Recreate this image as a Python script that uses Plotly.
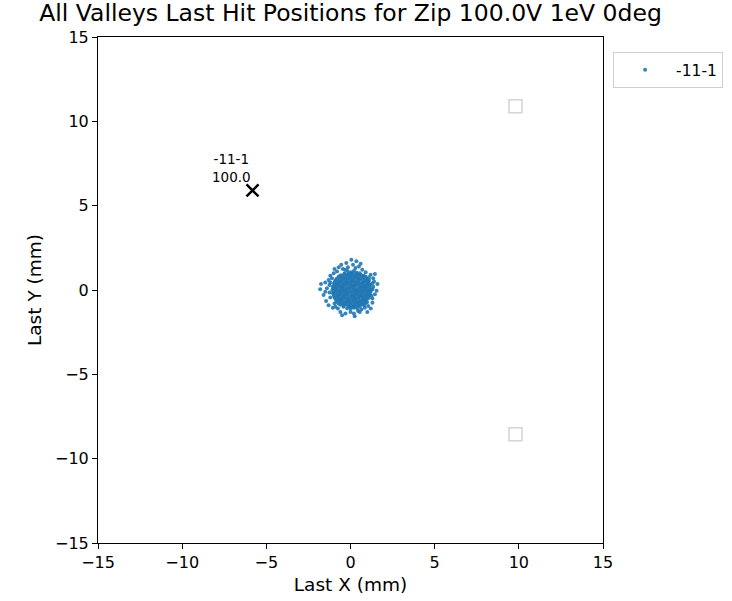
import plotly.graph_objects as go

# Last hit positions (mm) for valley -11-1
last_x = [
    -0.18, 0.02, 0.21, 0.38,
    -0.58, -0.38, -0.17, 0.04, 0.25, 0.44, 0.63, 0.79,
    -0.8, -0.6, -0.41, -0.2, 0.0, 0.19, 0.4, 0.58, 0.78, 0.97,
    -0.92, -0.71, -0.52, -0.31, -0.12, 0.09, 0.3, 0.49, 0.7, 0.88, 1.08,
    -0.98, -0.79, -0.58, -0.4, -0.19, 0.01, 0.2, 0.41, 0.6, 0.81, 1.0, 1.17,
    -1.02, -0.83, -0.62, -0.43, -0.22, -0.03, 0.18, 0.37, 0.57, 0.78, 0.97, 1.16,
    -1.0, -0.81, -0.6, -0.39, -0.2, 0.0, 0.21, 0.4, 0.61, 0.8, 1.01, 1.19,
    -0.99, -0.78, -0.59, -0.38, -0.18, 0.03, 0.22, 0.43, 0.62, 0.82, 1.02, 1.15,
    -0.93, -0.72, -0.51, -0.32, -0.11, 0.1, 0.29, 0.5, 0.71, 0.9, 1.08,
    -0.82, -0.61, -0.4, -0.21, 0.01, 0.2, 0.39, 0.6, 0.79, 0.98,
    -0.6, -0.39, -0.18, 0.03, 0.24, 0.45, 0.64, 0.8,
    -0.2, 0.0, 0.2, 0.4,
    -0.35, -0.08, 0.14, 0.33, 0.55,
    -0.7, -0.5, -0.28, -0.07, 0.12, 0.33, 0.52, 0.71, 0.9,
    -0.88, -0.65, -0.45, -0.24, -0.03, 0.16, 0.37, 0.56, 0.77, 0.95, 1.1,
    -0.97, -0.75, -0.55, -0.35, -0.14, 0.06, 0.27, 0.46, 0.66, 0.86, 1.05,
    -1.05, -0.87, -0.68, -0.48, -0.27, -0.08, 0.12, 0.32, 0.52, 0.72, 0.91, 1.1,
    -1.08, -0.9, -0.7, -0.5, -0.3, -0.1, 0.11, 0.31, 0.5, 0.7, 0.9, 1.09, 1.24,
    -1.04, -0.88, -0.69, -0.49, -0.29, -0.09, 0.12, 0.31, 0.52, 0.71, 0.92, 1.1,
    -0.96, -0.76, -0.56, -0.36, -0.15, 0.05, 0.26, 0.46, 0.66, 0.85, 1.04,
    -0.86, -0.66, -0.46, -0.25, -0.05, 0.15, 0.35, 0.55, 0.75, 0.94,
    -0.72, -0.5, -0.29, -0.08, 0.13, 0.34, 0.54, 0.73, 0.88,
    -0.42, -0.1, 0.12, 0.31, 0.55,
    -1.75, -1.8, -1.6, -1.3, -1.45, -1.2, -1.3, -1.25, -1.2, -1.0,
    -1.05, -0.95, -0.75, -0.7, -0.6, -0.45, -0.3, -0.15, 0.0, 0.05,
    0.15, 0.25, 0.3, 0.45, 0.5, 0.65, 0.7, 0.85, 0.9, 1.05,
    1.2, 1.3, 1.35, 1.3, 1.4, 1.45, 1.35, 1.55, 1.6, 1.45,
    1.2, -1.4, -1.5, -0.5, 0.35, -0.25, 1.0, -1.1, 1.3, -0.95,
    0.6, -0.8, 1.25,
    -1.25, -1.2, 1.3, -0.3, 0.55, -0.9, 1.1, -1.5, -0.55, 0.2,
]
last_y = [
    1.12, 1.05, 1.14, 1.03,
    0.87, 0.93, 0.9, 0.95, 0.86, 0.92, 0.89, 0.84,
    0.68, 0.73, 0.7, 0.66, 0.74, 0.69, 0.72, 0.67, 0.71, 0.65,
    0.5, 0.47, 0.53, 0.49, 0.46, 0.52, 0.48, 0.54, 0.45, 0.51, 0.48,
    0.28, 0.33, 0.27, 0.31, 0.34, 0.29, 0.26, 0.32, 0.3, 0.27, 0.33, 0.29,
    0.09, 0.12, 0.07, 0.11, 0.08, 0.13, 0.1, 0.06, 0.12, 0.09, 0.11, 0.08,
    -0.11, -0.08, -0.12, -0.09, -0.13, -0.1, -0.07, -0.12, -0.09, -0.11, -0.08, -0.12,
    -0.29, -0.32, -0.27, -0.31, -0.28, -0.33, -0.3, -0.26, -0.32, -0.29, -0.31, -0.27,
    -0.48, -0.52, -0.5, -0.47, -0.53, -0.49, -0.51, -0.46, -0.5, -0.53, -0.48,
    -0.7, -0.67, -0.72, -0.69, -0.73, -0.68, -0.71, -0.66, -0.7, -0.72,
    -0.88, -0.92, -0.87, -0.93, -0.89, -0.91, -0.86, -0.9,
    -1.08, -1.12, -1.05, -1.1,
    1.0, 0.98, 1.01, 0.97, 0.99,
    0.8, 0.78, 0.82, 0.79, 0.81, 0.77, 0.8, 0.83, 0.78,
    0.6, 0.58, 0.62, 0.59, 0.61, 0.57, 0.6, 0.63, 0.58, 0.61, 0.59,
    0.4, 0.38, 0.42, 0.39, 0.41, 0.37, 0.4, 0.43, 0.38, 0.41, 0.39,
    0.2, 0.18, 0.22, 0.19, 0.21, 0.17, 0.2, 0.23, 0.18, 0.21, 0.19, 0.22,
    0.0, 0.02, -0.02, 0.01, -0.01, 0.03, 0.0, -0.02, 0.02, -0.01, 0.01, -0.03, 0.02,
    -0.2, -0.18, -0.22, -0.19, -0.21, -0.17, -0.2, -0.23, -0.18, -0.21, -0.19, -0.22,
    -0.4, -0.38, -0.42, -0.39, -0.41, -0.37, -0.4, -0.43, -0.38, -0.41, -0.39,
    -0.6, -0.58, -0.62, -0.59, -0.61, -0.57, -0.6, -0.63, -0.58, -0.61,
    -0.8, -0.78, -0.82, -0.79, -0.81, -0.77, -0.8, -0.83, -0.78,
    -1.0, -0.98, -1.01, -0.97, -0.99,
    0.35, 0.05, -0.3, 0.6, -0.65, 0.85, -0.9, 0.3, -0.45, 1.0,
    -1.05, 1.25, -1.1, 1.35, -1.3, 1.25, -1.4, 1.35, -1.3, 1.8,
    1.5, -1.55, 1.3, -1.25, 1.4, -1.15, 1.2, -1.05, 1.05, -0.95,
    0.9, -0.75, 0.7, -0.5, 0.5, -0.25, 0.2, -0.05, 0.35, 0.95,
    -1.1, 0.1, -0.1, -1.5, 1.7, 1.6, -1.3, 0.7, 0.05, -0.8,
    1.55, 1.1, -0.35,
    -0.15, 0.45, 0.4, 1.2, -1.3, -1.0, 0.75, 0.45, 1.5, -1.4,
]

# Valley centre marker and its label
valley_name = "-11-1"
valley_x = [-5.82]
valley_y = [5.9]
valley_pct = 100.0

# Valleys with no recorded hits
empty_x = [9.8, 9.8]
empty_y = [10.9, -8.55]

ticks = [-15, -10, -5, 0, 5, 10, 15]

fig = go.Figure()

fig.add_trace(go.Scatter(
    x=last_x, y=last_y, mode="markers", name=valley_name,
    marker=dict(color="#1f77b4", size=4, opacity=0.9, line=dict(width=0)),
))

fig.add_trace(go.Scatter(
    x=empty_x, y=empty_y, mode="markers", showlegend=False, hoverinfo="skip",
    marker=dict(symbol="square-open", size=13, color="#d4d4d4",
                line=dict(width=1.5, color="#d4d4d4")),
))

fig.add_trace(go.Scatter(
    x=valley_x, y=valley_y, mode="markers", showlegend=False,
    marker=dict(symbol="x-thin", size=12, color="black",
                line=dict(width=2.5, color="black")),
))

# Two-line label above-left of the valley marker
fig.add_annotation(
    x=valley_x[0], y=valley_y[0], xref="x", yref="y",
    text=f"{valley_name}<br>{valley_pct:.1f}", showarrow=False,
    xanchor="center", yanchor="middle", align="center",
    xshift=-21, yshift=22,
    font=dict(family="DejaVu Sans", size=13.5, color="black"),
)

axis_common = dict(
    range=[-15, 15], tickvals=ticks, ticks="outside", ticklen=5, tickwidth=1,
    tickcolor="black", showline=True, linecolor="black", linewidth=1,
    mirror=True, showgrid=False, zeroline=False, automargin=False,
    tickfont=dict(family="DejaVu Sans", size=16, color="black"),
)
title_font = dict(family="DejaVu Sans", size=18.5, color="black")

fig.update_xaxes(title=dict(text="Last X (mm)", standoff=6, font=title_font),
                 **axis_common)
fig.update_yaxes(title=dict(text="Last Y (mm)", standoff=8, font=title_font),
                 **axis_common)

fig.update_layout(
    width=732, height=601,
    margin=dict(l=98, r=129, t=37, b=58, autoexpand=False),
    paper_bgcolor="white", plot_bgcolor="white",
    title=dict(text="All Valleys Last Hit Positions for Zip 100.0V 1eV 0deg",
               x=(98 + 603) / 2 / 732, xanchor="center", y=0.978, yanchor="middle",
               font=dict(family="DejaVu Sans", size=23.5, color="black")),
    legend=dict(x=1.02, y=0.97, xanchor="left", yanchor="top",
                bordercolor="#d0d0d0", borderwidth=1,
                font=dict(family="DejaVu Sans", size=15.5, color="black"),
                itemwidth=52),
    showlegend=True,
)

fig.write_html("out.html")
